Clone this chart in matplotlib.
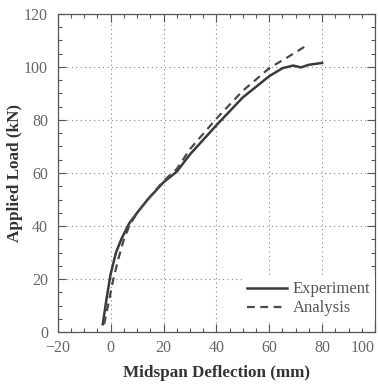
import matplotlib.pyplot as plt
from matplotlib.ticker import MultipleLocator

# data
exp_x = [-3, -1.5, 0, 2, 4, 5.5, 7, 10, 14, 20, 25, 30, 40, 50, 60, 65, 69, 72, 75, 80]
exp_y = [3, 13, 22, 30, 35, 38, 41, 45, 50, 56.5, 60.5, 67, 78, 88.5, 96.5, 99.5, 100.5, 99.8, 100.8, 101.5]
ana_x = [-2.5, -1, 1, 3, 5, 7, 10, 14, 20, 25, 30, 40, 50, 60, 65, 70, 74]
ana_y = [3, 10, 20, 28, 35, 40, 45, 50, 57, 61.5, 69, 80.5, 91, 99.5, 102.5, 105.5, 108]
xticks = [-20, 0, 20, 40, 60, 80, 100]
yticks = [0, 20, 40, 60, 80, 100, 120]

plt.rcParams["font.family"] = ["Liberation Serif", "DejaVu Serif"]

fig = plt.figure(figsize=(3.78, 3.84), dpi=100)
ax = fig.add_axes([0.153, 0.135, 0.839, 0.829])

ax.plot(exp_x, exp_y, color="#3a3a3a", lw=1.8, label="Experiment")
ax.plot(ana_x, ana_y, color="#4a4a4a", lw=1.6, ls=(0, (3.5, 2.5)), label="Analysis")

ax.set_xlim(-20, 100)
ax.set_ylim(0, 120)
ax.set_xticks(xticks)
ax.set_yticks(yticks)
ax.xaxis.set_minor_locator(MultipleLocator(5))
ax.yaxis.set_minor_locator(MultipleLocator(5))
ax.tick_params(which="both", direction="in", top=True, right=True,
               colors="#555555", labelcolor="#666666", labelsize=11.5)
ax.tick_params(which="major", length=6, width=0.8)
ax.tick_params(which="minor", length=3, width=0.8)
ax.tick_params(axis="x", pad=6)
ax.tick_params(axis="y", pad=7)
xl = ax.get_xticklabels()
xl[-1].set_horizontalalignment("right")
for s in ax.spines.values():
    s.set_color("#555555")
    s.set_linewidth(0.9)
ax.grid(True, which="major", ls=(0, (1, 3)), color="#888888", lw=0.8)

ax.set_xlabel("Midspan Deflection (mm)", fontsize=12.3, fontweight="bold",
              color="#333333", va="center")
ax.xaxis.set_label_coords(0.5, -0.129)
ax.set_ylabel("Applied Load (kN)", fontsize=12.3, fontweight="bold",
              color="#333333", va="center")
ax.yaxis.set_label_coords(-0.136, 0.5)

leg = ax.legend(loc="lower right", bbox_to_anchor=(1.0, 0.034), frameon=True,
                fontsize=12, handlelength=2.4, handletextpad=0.3,
                labelspacing=0.18, borderaxespad=0.0, borderpad=0.3,
                labelcolor="#555555", fancybox=False)
leg.get_frame().set_edgecolor("none")
leg.get_frame().set_facecolor("white")
leg.get_frame().set_alpha(1)

fig.savefig("out.png", dpi=100)
